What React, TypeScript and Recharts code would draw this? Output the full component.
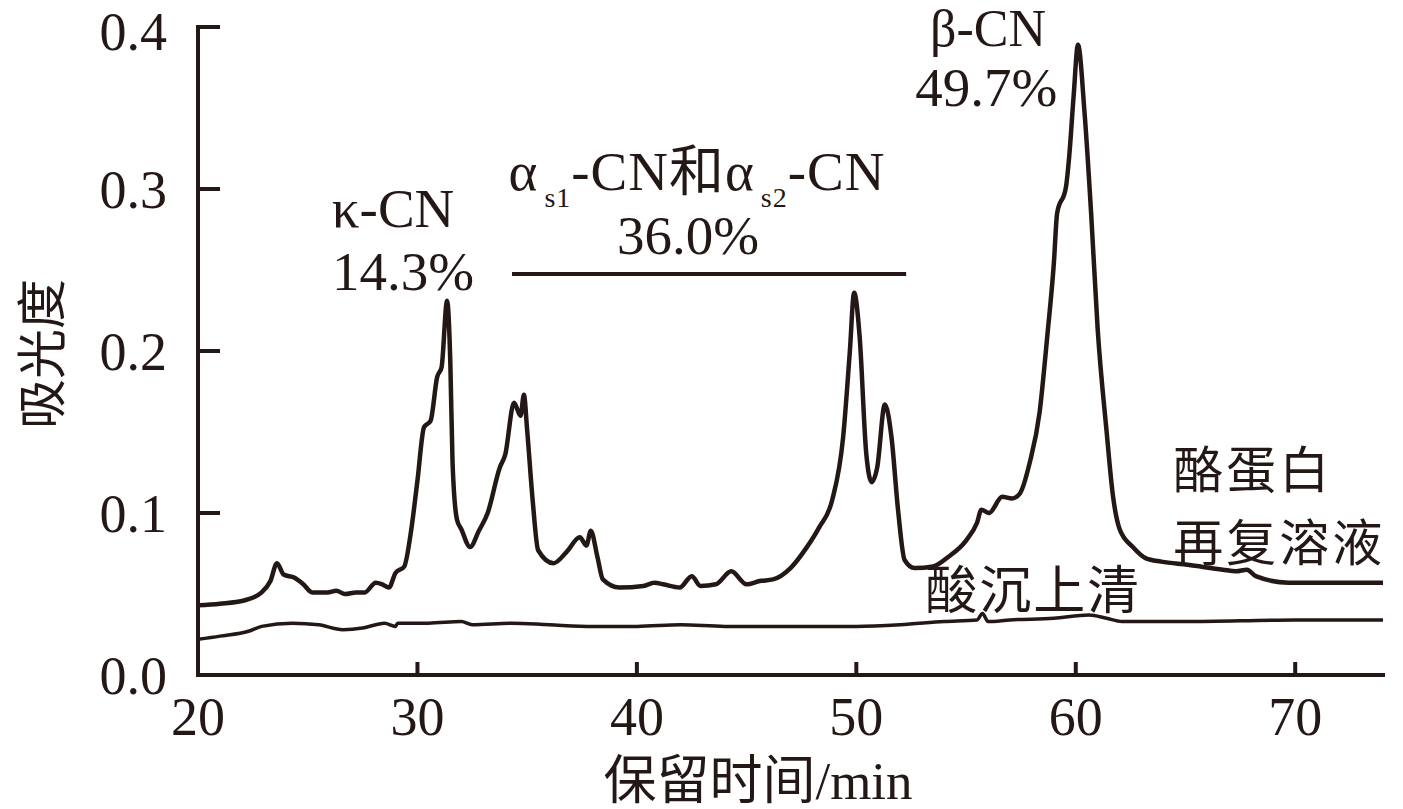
import { LineChart, Line, XAxis, YAxis, ReferenceDot, ReferenceLine } from "recharts";

// 保留时间 (min) / 吸光度 — 酪蛋白再复溶液
const caseinTime = [
  20.0, 21.0, 22.1, 22.9, 23.3, 23.6, 23.9, 24.4, 24.8, 25.2, 25.9, 26.3, 26.7, 27.2, 27.6,
  28.1, 28.4, 28.7, 29.0, 29.4, 29.7, 30.0, 30.3, 30.6, 30.9, 31.1, 31.35, 31.5, 31.6, 31.8,
  32.0, 32.4, 32.8, 33.2, 33.75, 34.0, 34.4, 34.7, 34.85, 35.0, 35.25, 35.5, 36.2, 36.8, 37.4,
  37.7, 37.9, 38.2, 38.45, 39.2, 40.3, 40.8, 41.2, 41.95, 42.5, 42.9, 43.6, 44.3, 45.0, 45.6,
  46.2, 47.0, 47.7, 48.3, 48.9, 49.4, 49.7, 49.9, 50.15, 50.45, 50.7, 50.95, 51.3, 51.6, 51.9,
  52.2, 52.65, 53.5, 54.2, 55.0, 55.5, 55.7, 56.05, 56.65, 57.1, 57.45, 57.9, 58.35, 58.7, 59.0,
  59.15, 59.55, 59.7, 59.9, 60.1, 60.4, 60.7, 61.0, 61.4, 61.7, 62.0, 62.6, 63.2, 63.9, 65.1,
  66.7, 67.3, 67.8, 68.2, 69.7, 71.2, 74.0,
];
const caseinAbs = [
  0.043, 0.044, 0.046, 0.051, 0.058, 0.069, 0.062, 0.060, 0.056, 0.051, 0.051, 0.052, 0.050, 0.051, 0.051,
  0.057, 0.056, 0.054, 0.063, 0.067, 0.088, 0.120, 0.153, 0.157, 0.184, 0.190, 0.231, 0.192, 0.131, 0.096,
  0.090, 0.079, 0.089, 0.100, 0.128, 0.136, 0.168, 0.160, 0.173, 0.151, 0.108, 0.077, 0.069, 0.076, 0.085,
  0.080, 0.089, 0.073, 0.059, 0.054, 0.055, 0.057, 0.056, 0.054, 0.061, 0.055, 0.056, 0.064, 0.056, 0.058,
  0.059, 0.066, 0.078, 0.091, 0.108, 0.147, 0.199, 0.236, 0.209, 0.137, 0.119, 0.128, 0.167, 0.147, 0.102,
  0.071, 0.066, 0.067, 0.073, 0.083, 0.094, 0.102, 0.100, 0.110, 0.109, 0.112, 0.131, 0.162, 0.209, 0.254,
  0.285, 0.301, 0.320, 0.357, 0.389, 0.347, 0.285, 0.213, 0.151, 0.110, 0.090, 0.079, 0.072, 0.070, 0.068,
  0.065, 0.064, 0.065, 0.061, 0.057, 0.057, 0.057,
];

// 酸沉上清
const supTime = [
  20.0, 21.0, 22.3, 22.9, 24.3, 25.5, 26.6, 27.5, 28.5, 29.0, 29.1, 30.5, 32.0, 32.5, 34.3,
  36.0, 38.0, 40.0, 42.0, 44.0, 46.0, 48.0, 50.0, 52.0, 54.0, 55.5, 55.75, 56.0, 57.0, 59.0,
  60.6, 61.4, 62.1, 65.0, 70.0, 74.0,
];
const supAbs = [
  0.022, 0.024, 0.027, 0.030, 0.032, 0.031, 0.028, 0.029, 0.032, 0.030, 0.032, 0.032, 0.033, 0.031, 0.032,
  0.031, 0.030, 0.030, 0.031, 0.030, 0.030, 0.030, 0.030, 0.031, 0.033, 0.034, 0.038, 0.033, 0.034, 0.035,
  0.037, 0.035, 0.033, 0.033, 0.034, 0.034,
];

const xTicks = [20, 30, 40, 50, 60, 70];
const yTicks = [0, 0.1, 0.2, 0.3, 0.4];

// text anchors, in data units
const peakNotes = [
  { t: 28.89, v: 0.2765, size: 55, text: "κ-CN" },
  { t: 29.34, v: 0.2377, size: 55, text: "14.3%" },
  { t: 42.33, v: 0.2599, size: 55, text: "36.0%" },
  { t: 56.0, v: 0.3883, size: 52, text: "β-CN" },
  { t: 55.92, v: 0.351, size: 55, text: "49.7%" },
];
const caseinNote = { t: 64.44, v: 0.1154, lines: ["酪蛋白", "再复溶液"] };
const supNote = { t: 53.14, v: 0.0407, text: "酸沉上清" };
const alphaNote = { t: 42.74, v: 0.2994 };
const alphaBar = { from: 34.31, to: 52.27, v: 0.2475 };

const casein = caseinTime.map((t, i) => ({ t, v: caseinAbs[i] }));
const supernatant = supTime.map((t, i) => ({ t, v: supAbs[i] }));

const INK = "#231815";
const SERIF = '"Liberation Serif", "Noto Sans CJK SC", serif';
const CJK = '"Noto Sans CJK SC", sans-serif';

function AxisTitleY() {
  return (
    <text x={38} y={354} transform="rotate(-90, 38, 354)" textAnchor="middle"
      dominantBaseline="central" fill={INK} fontSize={50} fontFamily={CJK}>
      吸光度
    </text>
  );
}

function AxisTitleX() {
  return (
    <text x={758} y={799} textAnchor="middle" fill={INK} fontSize={53} fontFamily={SERIF}>
      保留时间/min
    </text>
  );
}

export default function App() {
  return (
    <div style={{ position: "absolute", left: 0, top: 0, background: "#fff" }}>
      <LineChart width={1403} height={809}
        margin={{ top: 27, right: 20, bottom: 0, left: 0 }}>
        <XAxis dataKey="t" type="number" domain={[20, 74]} ticks={xTicks}
          allowDataOverflow height={134}
          axisLine={{ stroke: INK, strokeWidth: 4, strokeLinecap: "square" }}
          tickLine={{ stroke: INK, strokeWidth: 4 }}
          tickSize={-13} tickMargin={35}
          tick={{ fill: INK, fontSize: 54, fontFamily: SERIF }}
          label={<AxisTitleX />} />
        <YAxis type="number" domain={[0, 0.4]} ticks={yTicks} width={198}
          allowDataOverflow
          axisLine={{ stroke: INK, strokeWidth: 4, strokeLinecap: "square" }}
          tickLine={{ stroke: INK, strokeWidth: 4 }}
          tickSize={-22} tickMargin={53}
          tickFormatter={(v: number) => v.toFixed(1)}
          tick={{ fill: INK, fontSize: 54, fontFamily: SERIF }}
          label={<AxisTitleY />} />

        <Line data={supernatant} dataKey="v" type="monotone" stroke={INK}
          strokeWidth={3.5} dot={false} activeDot={false} isAnimationActive={false} />
        <Line data={casein} dataKey="v" type="monotone" stroke={INK}
          strokeWidth={4.5} dot={false} activeDot={false} isAnimationActive={false} />

        {/* αs1/αs2 bracket bar */}
        <ReferenceLine segment={[{ x: alphaBar.from, y: alphaBar.v }, { x: alphaBar.to, y: alphaBar.v }]}
          stroke={INK} strokeWidth={4} />

        {peakNotes.map((n) => (
          <ReferenceDot key={n.text} x={n.t} y={n.v} r={1}
            shape={(p: any) => (
              <text x={p.cx} y={p.cy} textAnchor="middle" fill={INK}
                fontSize={n.size} fontFamily={SERIF}>{n.text}</text>
            )} />
        ))}
        <ReferenceDot x={alphaNote.t} y={alphaNote.v} r={1}
          shape={(p: any) => (
            <text x={p.cx} y={p.cy} textAnchor="middle" fill={INK}
              fontSize={55} fontFamily={SERIF} letterSpacing={1}>
              α<tspan fontSize={28} dy={17} dx={6}>s1</tspan>
              <tspan dy={-17}>-CN和α</tspan>
              <tspan fontSize={28} dy={17} dx={6}>s2</tspan>
              <tspan dy={-17}>-CN</tspan>
            </text>
          )} />
        <ReferenceDot x={caseinNote.t} y={caseinNote.v} r={1}
          shape={(p: any) => (
            <text x={p.cx} y={p.cy} textAnchor="start" fill={INK}
              fontSize={50} fontFamily={CJK} letterSpacing={3}>
              {caseinNote.lines.map((l, i) => (
                <tspan key={l} x={p.cx} dy={i === 0 ? 0 : 73}>{l}</tspan>
              ))}
            </text>
          )} />
        <ReferenceDot x={supNote.t} y={supNote.v} r={1}
          shape={(p: any) => (
            <text x={p.cx} y={p.cy} textAnchor="start" fill={INK}
              fontSize={52} fontFamily={CJK} letterSpacing={2}>{supNote.text}</text>
          )} />
      </LineChart>
    </div>
  );
}
